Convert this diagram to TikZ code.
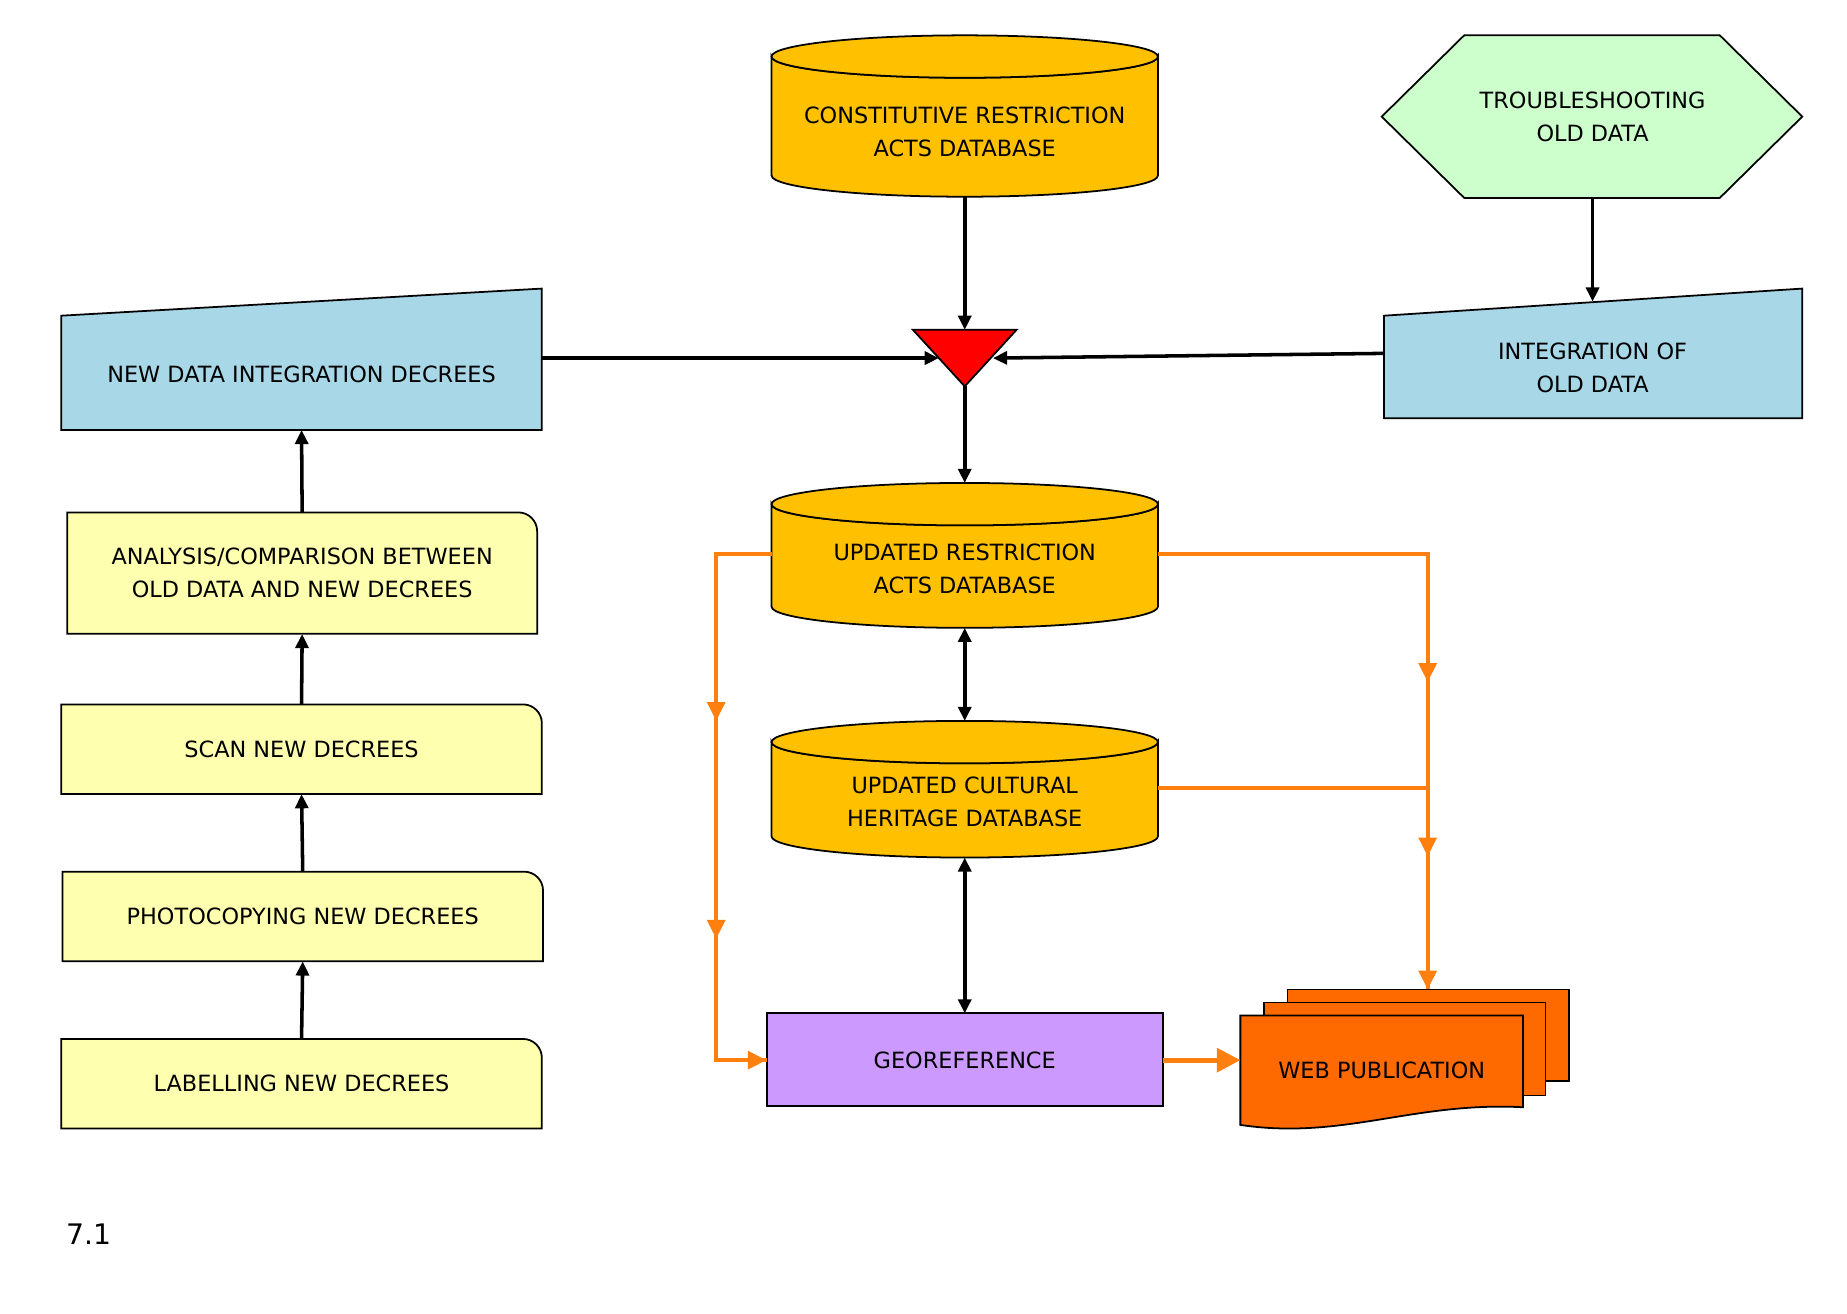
\documentclass[tikz,border=0pt]{standalone}
\usepackage{fontspec}
\setmainfont{DejaVu Sans}
\usetikzlibrary{arrows.meta}
\definecolor{gold}{HTML}{FFC000}
\definecolor{lblue}{HTML}{A8D8E8}
\definecolor{lgreen}{HTML}{CCFFCC}
\definecolor{lyel}{HTML}{FFFFB0}
\definecolor{purp}{HTML}{CC99FF}
\definecolor{org}{HTML}{FF7F0F}
\definecolor{dorg}{HTML}{FF6A00}
\newcommand\mycyl[4]{% l r t b (ellipse centre ys)
 \pgfmathsetmacro\rr{(#2-#1)/2}
 \filldraw[fill=gold,line width=1.5pt] (#1,#3) -- (#1,#4) arc[start angle=180,end angle=0,x radius=\rr,y radius=18] -- (#2,#3) arc[start angle=0,end angle=180,x radius=\rr,y radius=18] -- cycle;
 \filldraw[fill=gold,line width=1.5pt] ({(#1+#2)/2},#3) ellipse[x radius=\rr,y radius=18];}
\newcommand\ybox[5]{% name l r t b
 \filldraw[fill=lyel,line width=1.5pt] (#2,#5) -- (#2,#4) [rounded corners=16pt] -- (#3,#4) [sharp corners] -- (#3,#5) -- cycle;
 \node[txt] (#1) at ({(#2+#3)/2},{(#4+#5)/2}) [minimum width={#3-#2},minimum height={#5-#4}] {};}
\tikzset{
 txt/.style={inner sep=0pt,align=center,font=\fontsize{19}{28}\selectfont},
 blk/.style={line width=3pt,-{Triangle[length=12pt,width=11pt]}},
 dbl/.style={line width=3pt,{Triangle[length=12pt,width=11pt]}-{Triangle[length=12pt,width=11pt]}},
 or/.style={org,line width=3.5pt},
 ora/.style={org,line width=3.5pt,-{Triangle[length=16pt,width=15pt]}},
}
\begin{document}
\begin{tikzpicture}[x=1pt,y=-1pt]
\useasboundingbox (0,0) rectangle (1568,1115);
% cylinders
\mycyl{655}{983}{48}{149}
\node[txt] (cra) at (819,112) {CONSTITUTIVE RESTRICTION\\ACTS DATABASE};
\mycyl{655}{983}{428}{515}
\node[txt] (ura) at (819,483) {UPDATED RESTRICTION\\ACTS DATABASE};
\mycyl{655}{983}{630}{710}
\node[txt] (uch) at (819,681) {UPDATED CULTURAL\\HERITAGE DATABASE};
\coordinate (craB) at (819,167); \coordinate (uraT) at (819,410); \coordinate (uraB) at (819,533);
\coordinate (uchT) at (819,612); \coordinate (uchB) at (819,728);
% hexagon
\filldraw[fill=lgreen,line width=1.5pt] (1173,99)--(1243,30)--(1460,30)--(1530,99)--(1460,168)--(1243,168)--cycle;
\node[txt] (ts) at (1352,99) {TROUBLESHOOTING\\OLD DATA};
% triangle
\filldraw[fill=red,line width=1.5pt] (775,280)--(863,280)--(819,328)--cycle;
\coordinate (trT) at (819,280); \coordinate (trB) at (819,328);
\coordinate (trL) at (797,304); \coordinate (trR) at (843,304);
% manual inputs
\filldraw[fill=lblue,line width=1.5pt] (52,268)--(460,245)--(460,365)--(52,365)--cycle;
\node[txt] (ndi) at (256,318) {NEW DATA INTEGRATION DECREES};
\filldraw[fill=lblue,line width=1.5pt] (1175,268)--(1530,245)--(1530,355)--(1175,355)--cycle;
\node[txt] (iod) at (1352,312) {INTEGRATION OF\\OLD DATA};
% yellow boxes
\ybox{an}{57}{456}{435}{538}
\node[txt] at (an) {ANALYSIS/COMPARISON BETWEEN\\OLD DATA AND NEW DECREES};
\ybox{sc}{52}{460}{598}{674}
\node[txt] at (sc) {SCAN NEW DECREES};
\ybox{ph}{53}{461}{740}{816}
\node[txt] at (ph) {PHOTOCOPYING NEW DECREES};
\ybox{lb}{52}{460}{882}{958}
\node[txt] at (lb) {LABELLING NEW DECREES};
% georeference
\filldraw[fill=purp,line width=1.5pt] (651,860) rectangle (987,939);
\node[txt,minimum width=336pt,minimum height=79pt] (geo) at (819,900) {GEOREFERENCE};
% web publication
\filldraw[fill=dorg,line width=1.5pt] (1093,840) rectangle (1332,918);
\filldraw[fill=dorg,line width=1.5pt] (1073,851) rectangle (1312,930);
\filldraw[fill=dorg,line width=1.5pt] (1053,862)--(1293,862)--(1293,940) .. controls (1200,935) and (1140,968) .. (1053,955) -- cycle;
\node[txt] (web) at (1173,909) {WEB PUBLICATION};
\coordinate (webL) at (1053,900); \coordinate (webT) at (1212,840);
% black arrows
\draw[blk] (craB) -- (trT);
\draw[blk] (460,304) -- (trL);
\draw[blk] (1175,300) -- (trR);
\draw[blk] (1352,168) -- (1352,256);
\draw[blk] (trB) -- (uraT);
\draw[dbl] (uraB) -- (uchT);
\draw[dbl] (uchB) -- (geo.north);
\draw[blk] (an.north) -- (256,365);
\draw[blk] (sc.north) -- (an.south);
\draw[blk] (ph.north) -- (sc.south);
\draw[blk] (lb.north) -- (ph.south);
% orange
\draw[or] (655,470) -- (608,470) -- (608,900) -- (geo.west);
\draw[ora] (608,470) -- (608,612);
\draw[ora] (608,612) -- (608,797);
\draw[ora] (608,900) -- (geo.west);
\draw[or] (983,470) -- (1212,470) -- (webT);
\draw[or] (983,669) -- (1212,669);
\draw[ora] (1212,470) -- (1212,579);
\draw[ora] (1212,669) -- (1212,727);
\draw[ora] (1212,727) -- (webT);
\draw[org,line width=4pt,-{Triangle[length=20pt,width=20pt]}] (geo.east) -- (webL);
\node[anchor=west,inner sep=0pt,font=\fontsize{24}{28}\selectfont] (fig) at (56,1048) {7.1};
\end{tikzpicture}
\end{document}
